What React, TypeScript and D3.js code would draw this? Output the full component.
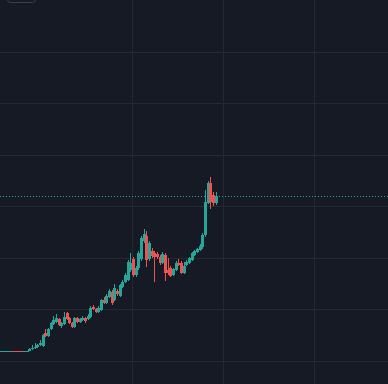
import React from "react";
import * as d3 from "d3";

const opens = [
  1.94, 1.94, 1.94, 1.94, 1.94, 1.95, 1.95, 1.95, 1.95, 1.94, 1.94,
  1.94, 2.33, 2.52, 2.71, 3.10, 2.91, 5.43, 4.85, 6.20, 7.17, 7.56, 8.14, 6.79, 7.17, 9.31, 8.34, 7.37, 6.59, 8.34, 7.56,
  7.95, 8.34, 8.14, 8.53, 10.47, 10.08, 9.50, 9.89, 11.83, 11.25, 12.41, 13.38, 11.83, 13.57, 12.60, 14.35, 15.32, 15.71,
  17.65, 19.78, 16.68, 18.03, 19.78, 23.27, 24.24, 19.78, 21.33, 20.94, 20.75, 20.17, 19.00, 20.55, 17.65, 18.03, 16.68,
  17.65, 19.00, 19.00, 17.06, 18.61, 19.00, 19.58, 20.55, 21.14, 21.52, 22.11, 24.43, 30.64, 34.52, 32.19, 30.64,
];
const closes = [
  1.94, 1.94, 1.94, 1.94, 1.94, 1.94, 1.94, 1.94, 1.94, 1.94, 1.94,
  2.33, 2.52, 2.71, 3.10, 3.49, 5.04, 4.85, 6.20, 7.37, 7.95, 8.34, 6.98, 7.37, 8.53, 8.14, 7.37, 6.59, 8.34, 7.56, 8.14,
  8.34, 7.76, 8.73, 10.28, 10.08, 9.50, 10.28, 11.83, 11.25, 12.60, 13.57, 11.25, 14.15, 12.99, 14.74, 15.32, 16.68, 19.20,
  19.00, 16.68, 18.03, 20.94, 23.85, 24.63, 19.58, 22.88, 20.36, 20.17, 20.17, 19.00, 20.75, 17.06, 17.06, 16.48, 17.84,
  19.00, 18.61, 17.06, 18.42, 19.20, 19.97, 20.94, 21.33, 21.72, 22.30, 24.43, 30.83, 34.52, 30.83, 30.64, 31.99,
];
const highs = [
  1.94, 1.94, 1.94, 1.94, 1.94, 1.95, 1.95, 1.95, 1.95, 1.94, 1.94,
  2.52, 3.10, 3.49, 3.30, 4.07, 5.24, 6.20, 6.40, 7.56, 8.73, 9.11, 8.34, 7.56, 9.50, 9.50, 8.53, 7.56, 8.53, 8.53, 8.34,
  8.73, 8.53, 9.11, 10.66, 10.86, 10.28, 10.66, 12.02, 12.41, 12.99, 13.96, 13.77, 14.93, 13.96, 14.93, 15.71, 17.06, 19.58,
  20.94, 20.17, 18.42, 21.33, 24.24, 25.60, 25.21, 23.27, 21.91, 21.33, 21.14, 20.55, 21.14, 20.94, 19.97, 18.42, 18.03,
  19.39, 19.78, 19.39, 19.20, 19.58, 20.17, 21.14, 21.52, 21.91, 22.69, 24.82, 33.16, 34.90, 35.68, 32.77, 32.77,
];
const lows = [
  1.94, 1.94, 1.94, 1.94, 1.94, 1.94, 1.94, 1.94, 1.94, 1.94, 1.94,
  1.94, 2.13, 2.33, 2.52, 2.91, 2.71, 4.65, 4.65, 6.01, 6.98, 7.37, 6.79, 6.40, 6.98, 7.95, 7.17, 6.40, 6.40, 7.37, 7.37,
  7.76, 7.37, 7.95, 8.34, 9.89, 9.31, 9.31, 9.70, 11.05, 11.05, 12.22, 10.86, 11.63, 12.60, 12.41, 14.15, 15.12, 15.51,
  17.26, 16.29, 16.29, 17.65, 19.39, 22.88, 18.23, 19.39, 19.97, 15.32, 19.78, 18.61, 18.81, 15.51, 16.68, 16.29, 16.48,
  17.45, 18.42, 16.87, 16.87, 18.42, 18.81, 19.39, 20.36, 20.94, 21.33, 21.72, 24.04, 30.44, 29.47, 30.06, 30.25,
];

const priceTicks = [0, 10, 20, 30, 40, 50, 60];
const timeGridIdx = [49.4, 83.6, 117.8];

const W = 388;
const H = 384;
const BG = "#161a25";
const GRID = "#242833";
const UP = "#26a69a";
const DOWN = "#ef5350";

export default function App() {
  const n = closes.length;
  const x = d3.scaleLinear().domain([0, n - 1]).range([0.5, 216]);
  const y = d3.scaleLinear().domain([0, 70]).range([361, 0]);
  const last = closes[n - 1];
  const lastY = Math.round(y(last)) + 0.5;

  return (
    <svg
      width={W}
      height={H}
      style={{ position: "absolute", left: 0, top: 0, display: "block" }}
      shapeRendering="crispEdges"
    >
      <rect x={0} y={0} width={W} height={H} fill={BG} />
      {priceTicks.map((t) => (
        <line
          key={"h" + t}
          x1={0}
          x2={W}
          y1={Math.round(y(t)) + 0.5}
          y2={Math.round(y(t)) + 0.5}
          stroke={GRID}
          strokeWidth={1}
        />
      ))}
      {timeGridIdx.map((t) => (
        <line
          key={"v" + t}
          x1={Math.round(x(t)) + 0.5}
          x2={Math.round(x(t)) + 0.5}
          y1={0}
          y2={H}
          stroke={GRID}
          strokeWidth={1}
        />
      ))}
      <rect
        x={7.5}
        y={-6.5}
        width={28}
        height={9}
        rx={3}
        fill="none"
        stroke="#3b3f4b"
        strokeWidth={1}
        shapeRendering="auto"
      />
      <line
        x1={0}
        x2={W}
        y1={lastY}
        y2={lastY}
        stroke={UP}
        strokeWidth={1}
        strokeDasharray="1 2"
      />
      {closes.map((c, i) => {
        const o = opens[i];
        const color = c >= o ? UP : DOWN;
        const cx = x(i);
        const x0 = Math.round(cx - 1.5);
        const yTop = Math.round(y(Math.max(o, c)));
        const yBot = Math.round(y(Math.min(o, c)));
        const hTop = Math.round(y(highs[i]));
        const lBot = Math.round(y(lows[i]));
        return (
          <g key={i}>
            <rect
              x={x0 + 1}
              y={hTop}
              width={1}
              height={Math.max(1, lBot - hTop)}
              fill={color}
            />
            <rect
              x={x0}
              y={yTop}
              width={3}
              height={Math.max(1, yBot - yTop)}
              fill={color}
            />
          </g>
        );
      })}
    </svg>
  );
}
